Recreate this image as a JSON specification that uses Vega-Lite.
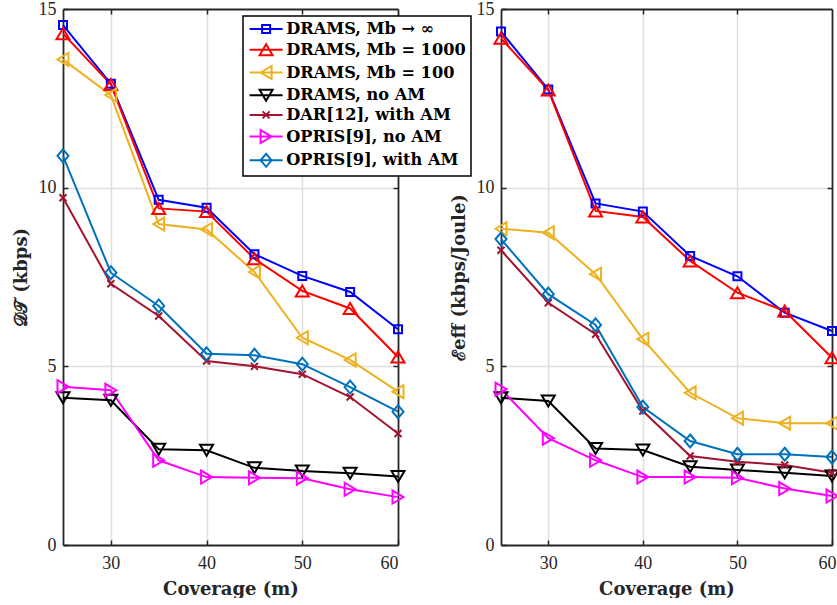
{
  "$schema": "https://vega.github.io/schema/vega-lite/v6.json",
  "background": "white",
  "padding": {"left": 12, "top": 0, "right": 0, "bottom": 0},
  "spacing": 103,
  "bounds": "flush",
  "datasets": {
    "dt": [
      {"coverage": 25, "series": "DRAMS, Mb → ∞", "value": 14.55},
      {"coverage": 30, "series": "DRAMS, Mb → ∞", "value": 12.91},
      {"coverage": 35, "series": "DRAMS, Mb → ∞", "value": 9.66},
      {"coverage": 40, "series": "DRAMS, Mb → ∞", "value": 9.44},
      {"coverage": 45, "series": "DRAMS, Mb → ∞", "value": 8.14},
      {"coverage": 50, "series": "DRAMS, Mb → ∞", "value": 7.53},
      {"coverage": 55, "series": "DRAMS, Mb → ∞", "value": 7.08},
      {"coverage": 60, "series": "DRAMS, Mb → ∞", "value": 6.04},
      {"coverage": 25, "series": "DRAMS, Mb = 1000", "value": 14.31},
      {"coverage": 30, "series": "DRAMS, Mb = 1000", "value": 12.89},
      {"coverage": 35, "series": "DRAMS, Mb = 1000", "value": 9.42},
      {"coverage": 40, "series": "DRAMS, Mb = 1000", "value": 9.33},
      {"coverage": 45, "series": "DRAMS, Mb = 1000", "value": 8.01},
      {"coverage": 50, "series": "DRAMS, Mb = 1000", "value": 7.11},
      {"coverage": 55, "series": "DRAMS, Mb = 1000", "value": 6.62},
      {"coverage": 60, "series": "DRAMS, Mb = 1000", "value": 5.26},
      {"coverage": 25, "series": "DRAMS, Mb = 100", "value": 13.59},
      {"coverage": 30, "series": "DRAMS, Mb = 100", "value": 12.59},
      {"coverage": 35, "series": "DRAMS, Mb = 100", "value": 8.98},
      {"coverage": 40, "series": "DRAMS, Mb = 100", "value": 8.83},
      {"coverage": 45, "series": "DRAMS, Mb = 100", "value": 7.64},
      {"coverage": 50, "series": "DRAMS, Mb = 100", "value": 5.80},
      {"coverage": 55, "series": "DRAMS, Mb = 100", "value": 5.18},
      {"coverage": 60, "series": "DRAMS, Mb = 100", "value": 4.29},
      {"coverage": 25, "series": "DRAMS, no AM", "value": 4.12},
      {"coverage": 30, "series": "DRAMS, no AM", "value": 4.05},
      {"coverage": 35, "series": "DRAMS, no AM", "value": 2.68},
      {"coverage": 40, "series": "DRAMS, no AM", "value": 2.65},
      {"coverage": 45, "series": "DRAMS, no AM", "value": 2.16},
      {"coverage": 50, "series": "DRAMS, no AM", "value": 2.07},
      {"coverage": 55, "series": "DRAMS, no AM", "value": 2.01},
      {"coverage": 60, "series": "DRAMS, no AM", "value": 1.92},
      {"coverage": 25, "series": "DAR[12], with AM", "value": 9.72},
      {"coverage": 30, "series": "DAR[12], with AM", "value": 7.31},
      {"coverage": 35, "series": "DAR[12], with AM", "value": 6.41},
      {"coverage": 40, "series": "DAR[12], with AM", "value": 5.15},
      {"coverage": 45, "series": "DAR[12], with AM", "value": 5.00},
      {"coverage": 50, "series": "DAR[12], with AM", "value": 4.78},
      {"coverage": 55, "series": "DAR[12], with AM", "value": 4.14},
      {"coverage": 60, "series": "DAR[12], with AM", "value": 3.12},
      {"coverage": 25, "series": "OPRIS[9], no AM", "value": 4.43},
      {"coverage": 30, "series": "OPRIS[9], no AM", "value": 4.33},
      {"coverage": 35, "series": "OPRIS[9], no AM", "value": 2.37},
      {"coverage": 40, "series": "OPRIS[9], no AM", "value": 1.90},
      {"coverage": 45, "series": "OPRIS[9], no AM", "value": 1.88},
      {"coverage": 50, "series": "OPRIS[9], no AM", "value": 1.87},
      {"coverage": 55, "series": "OPRIS[9], no AM", "value": 1.56},
      {"coverage": 60, "series": "OPRIS[9], no AM", "value": 1.34},
      {"coverage": 25, "series": "OPRIS[9], with AM", "value": 10.89},
      {"coverage": 30, "series": "OPRIS[9], with AM", "value": 7.62},
      {"coverage": 35, "series": "OPRIS[9], with AM", "value": 6.69},
      {"coverage": 40, "series": "OPRIS[9], with AM", "value": 5.35},
      {"coverage": 45, "series": "OPRIS[9], with AM", "value": 5.31},
      {"coverage": 50, "series": "OPRIS[9], with AM", "value": 5.06},
      {"coverage": 55, "series": "OPRIS[9], with AM", "value": 4.42},
      {"coverage": 60, "series": "OPRIS[9], with AM", "value": 3.73}
    ],
    "eff": [
      {"coverage": 25, "series": "DRAMS, Mb → ∞", "value": 14.37},
      {"coverage": 30, "series": "DRAMS, Mb → ∞", "value": 12.75},
      {"coverage": 35, "series": "DRAMS, Mb → ∞", "value": 9.56},
      {"coverage": 40, "series": "DRAMS, Mb → ∞", "value": 9.33},
      {"coverage": 45, "series": "DRAMS, Mb → ∞", "value": 8.09},
      {"coverage": 50, "series": "DRAMS, Mb → ∞", "value": 7.52},
      {"coverage": 55, "series": "DRAMS, Mb → ∞", "value": 6.50},
      {"coverage": 60, "series": "DRAMS, Mb → ∞", "value": 5.99},
      {"coverage": 25, "series": "DRAMS, Mb = 1000", "value": 14.18},
      {"coverage": 30, "series": "DRAMS, Mb = 1000", "value": 12.73},
      {"coverage": 35, "series": "DRAMS, Mb = 1000", "value": 9.35},
      {"coverage": 40, "series": "DRAMS, Mb = 1000", "value": 9.18},
      {"coverage": 45, "series": "DRAMS, Mb = 1000", "value": 7.95},
      {"coverage": 50, "series": "DRAMS, Mb = 1000", "value": 7.06},
      {"coverage": 55, "series": "DRAMS, Mb = 1000", "value": 6.55},
      {"coverage": 60, "series": "DRAMS, Mb = 1000", "value": 5.24},
      {"coverage": 25, "series": "DRAMS, Mb = 100", "value": 8.85},
      {"coverage": 30, "series": "DRAMS, Mb = 100", "value": 8.74},
      {"coverage": 35, "series": "DRAMS, Mb = 100", "value": 7.58},
      {"coverage": 40, "series": "DRAMS, Mb = 100", "value": 5.76},
      {"coverage": 45, "series": "DRAMS, Mb = 100", "value": 4.26},
      {"coverage": 50, "series": "DRAMS, Mb = 100", "value": 3.55},
      {"coverage": 55, "series": "DRAMS, Mb = 100", "value": 3.41},
      {"coverage": 60, "series": "DRAMS, Mb = 100", "value": 3.41},
      {"coverage": 25, "series": "DRAMS, no AM", "value": 4.12},
      {"coverage": 30, "series": "DRAMS, no AM", "value": 4.03},
      {"coverage": 35, "series": "DRAMS, no AM", "value": 2.70},
      {"coverage": 40, "series": "DRAMS, no AM", "value": 2.66},
      {"coverage": 45, "series": "DRAMS, no AM", "value": 2.19},
      {"coverage": 50, "series": "DRAMS, no AM", "value": 2.10},
      {"coverage": 55, "series": "DRAMS, no AM", "value": 2.02},
      {"coverage": 60, "series": "DRAMS, no AM", "value": 1.93},
      {"coverage": 25, "series": "DAR[12], with AM", "value": 8.25},
      {"coverage": 30, "series": "DAR[12], with AM", "value": 6.78},
      {"coverage": 35, "series": "DAR[12], with AM", "value": 5.90},
      {"coverage": 40, "series": "DAR[12], with AM", "value": 3.75},
      {"coverage": 45, "series": "DAR[12], with AM", "value": 2.49},
      {"coverage": 50, "series": "DAR[12], with AM", "value": 2.33},
      {"coverage": 55, "series": "DAR[12], with AM", "value": 2.24},
      {"coverage": 60, "series": "DAR[12], with AM", "value": 2.02},
      {"coverage": 25, "series": "OPRIS[9], no AM", "value": 4.36},
      {"coverage": 30, "series": "OPRIS[9], no AM", "value": 2.99},
      {"coverage": 35, "series": "OPRIS[9], no AM", "value": 2.37},
      {"coverage": 40, "series": "OPRIS[9], no AM", "value": 1.90},
      {"coverage": 45, "series": "OPRIS[9], no AM", "value": 1.90},
      {"coverage": 50, "series": "OPRIS[9], no AM", "value": 1.88},
      {"coverage": 55, "series": "OPRIS[9], no AM", "value": 1.58},
      {"coverage": 60, "series": "OPRIS[9], no AM", "value": 1.37},
      {"coverage": 25, "series": "OPRIS[9], with AM", "value": 8.56},
      {"coverage": 30, "series": "OPRIS[9], with AM", "value": 7.02},
      {"coverage": 35, "series": "OPRIS[9], with AM", "value": 6.16},
      {"coverage": 40, "series": "OPRIS[9], with AM", "value": 3.86},
      {"coverage": 45, "series": "OPRIS[9], with AM", "value": 2.91},
      {"coverage": 50, "series": "OPRIS[9], with AM", "value": 2.54},
      {"coverage": 55, "series": "OPRIS[9], with AM", "value": 2.54},
      {"coverage": 60, "series": "OPRIS[9], with AM", "value": 2.46}
    ]
  },
  "resolve": {"scale": {"color": "shared", "shape": "shared"}, "legend": {"color": "shared", "shape": "shared"}},
  "hconcat": [
    {
      "width": 335,
      "height": 536,
      "data": {"name": "dt"},
      "layer": [
        {
          "mark": {"type": "line", "strokeWidth": 2},
          "encoding": {
            "x": {"field": "coverage", "type": "quantitative", "scale": {"domain": [25, 60], "nice": false, "zero": false},
              "axis": {"orient": "bottom", "values": [30, 40, 50, 60], "title": "Coverage (m)", "grid": true,
                "gridOpacity": {"condition": {"test": "datum.value == 60", "value": 0}, "value": 1}}},
            "y": {"field": "value", "type": "quantitative", "scale": {"domain": [0, 15], "nice": false},
              "axis": {"orient": "left", "values": [0, 5, 10, 15], "title": "𝒟𝒯 (kbps)", "grid": true, "labelPadding": 12,
                "gridOpacity": {"condition": {"test": "datum.value == 15 || datum.value == 0", "value": 0}, "value": 1}}},
            "color": {"field": "series", "type": "nominal",
              "scale": {"domain": ["DRAMS, Mb → ∞", "DRAMS, Mb = 1000", "DRAMS, Mb = 100", "DRAMS, no AM", "DAR[12], with AM", "OPRIS[9], no AM", "OPRIS[9], with AM"],
                "range": ["#0000FF", "#FF0000", "#EDB120", "#000000", "#A2142F", "#FF00FF", "#0072BD"]},
              "legend": {"orient": "none", "legendX": 180, "legendY": 7, "title": null}}
          }
        },
        {
          "mark": {"type": "point", "filled": false, "strokeWidth": 2, "size": 100, "opacity": 1},
          "encoding": {
            "x": {"field": "coverage", "type": "quantitative", "scale": {"domain": [25, 60], "nice": false, "zero": false},
              "axis": {"orient": "top", "values": [30, 40, 50], "labels": false, "title": null, "grid": false}},
            "y": {"field": "value", "type": "quantitative", "scale": {"domain": [0, 15], "nice": false},
              "axis": {"orient": "right", "values": [5, 10], "labels": false, "title": null, "grid": false}},
            "color": {"field": "series", "type": "nominal", "legend": null},
            "shape": {"condition": [
                {"test": "datum.series === 'DRAMS, Mb → ∞'", "value": "M-0.8,-0.8H0.8V0.8H-0.8Z"},
                {"test": "datum.series === 'DRAMS, Mb = 1000'", "value": "M0,-1.1L1.3,1.1H-1.3Z"},
                {"test": "datum.series === 'DRAMS, Mb = 100'", "value": "M-1.1,0L1.1,-1.3V1.3Z"},
                {"test": "datum.series === 'DRAMS, no AM'", "value": "M0,1.1L1.3,-1.1H-1.3Z"},
                {"test": "datum.series === 'DAR[12], with AM'", "value": "M-0.7,-0.7L0.7,0.7M-0.7,0.7L0.7,-0.7"},
                {"test": "datum.series === 'OPRIS[9], no AM'", "value": "M1.1,0L-1.1,-1.3V1.3Z"}
              ], "value": "M0,-1.3L1.1,0L0,1.3L-1.1,0Z"}
          }
        },
        {
          "transform": [{"filter": "false"}],
          "mark": {"type": "point", "filled": false, "strokeWidth": 2, "size": 100, "opacity": 1},
          "encoding": {
            "color": {"field": "series", "type": "nominal", "legend": {"orient": "none", "legendX": 180, "legendY": 7, "title": null}},
            "shape": {"field": "series", "type": "nominal",
              "scale": {"domain": ["DRAMS, Mb → ∞", "DRAMS, Mb = 1000", "DRAMS, Mb = 100", "DRAMS, no AM", "DAR[12], with AM", "OPRIS[9], no AM", "OPRIS[9], with AM"],
                "range": ["M-3.3,0H3.3M-0.8,-0.8H0.8V0.8H-0.8Z", "M-3.3,0H3.3M0,-1.1L1.3,1.1H-1.3Z", "M-3.3,0H3.3M-1.1,0L1.1,-1.3V1.3Z", "M-3.3,0H3.3M0,1.1L1.3,-1.1H-1.3Z", "M-3.3,0H3.3M-0.7,-0.7L0.7,0.7M-0.7,0.7L0.7,-0.7", "M-3.3,0H3.3M1.1,0L-1.1,-1.3V1.3Z", "M-3.3,0H3.3M0,-1.3L1.1,0L0,1.3L-1.1,0Z"]},
              "legend": {"orient": "none", "legendX": 180, "legendY": 7, "title": null}}
          }
        }
      ],
      "resolve": {"axis": {"x": "independent", "y": "independent"}}
    },
    {
      "width": 331,
      "height": 536,
      "data": {"name": "eff"},
      "layer": [
        {
          "mark": {"type": "line", "strokeWidth": 2},
          "encoding": {
            "x": {"field": "coverage", "type": "quantitative", "scale": {"domain": [25, 60], "nice": false, "zero": false},
              "axis": {"orient": "bottom", "values": [30, 40, 50, 60], "title": "Coverage (m)", "grid": true, "labelFlush": true, "labelFlushOffset": 4,
                "gridOpacity": {"condition": {"test": "datum.value == 60", "value": 0}, "value": 1}}},
            "y": {"field": "value", "type": "quantitative", "scale": {"domain": [0, 15], "nice": false},
              "axis": {"orient": "left", "values": [0, 5, 10, 15], "title": "ℰeff (kbps/Joule)", "grid": true, "labelPadding": 12,
                "gridOpacity": {"condition": {"test": "datum.value == 15 || datum.value == 0", "value": 0}, "value": 1}}},
            "color": {"field": "series", "type": "nominal", "legend": null}
          }
        },
        {
          "mark": {"type": "point", "filled": false, "strokeWidth": 2, "size": 100, "opacity": 1},
          "encoding": {
            "x": {"field": "coverage", "type": "quantitative", "scale": {"domain": [25, 60], "nice": false, "zero": false},
              "axis": {"orient": "top", "values": [30, 40, 50], "labels": false, "title": null, "grid": false}},
            "y": {"field": "value", "type": "quantitative", "scale": {"domain": [0, 15], "nice": false},
              "axis": {"orient": "right", "values": [5, 10], "labels": false, "title": null, "grid": false}},
            "color": {"field": "series", "type": "nominal", "legend": null},
            "shape": {"condition": [
                {"test": "datum.series === 'DRAMS, Mb → ∞'", "value": "M-0.8,-0.8H0.8V0.8H-0.8Z"},
                {"test": "datum.series === 'DRAMS, Mb = 1000'", "value": "M0,-1.1L1.3,1.1H-1.3Z"},
                {"test": "datum.series === 'DRAMS, Mb = 100'", "value": "M-1.1,0L1.1,-1.3V1.3Z"},
                {"test": "datum.series === 'DRAMS, no AM'", "value": "M0,1.1L1.3,-1.1H-1.3Z"},
                {"test": "datum.series === 'DAR[12], with AM'", "value": "M-0.7,-0.7L0.7,0.7M-0.7,0.7L0.7,-0.7"},
                {"test": "datum.series === 'OPRIS[9], no AM'", "value": "M1.1,0L-1.1,-1.3V1.3Z"}
              ], "value": "M0,-1.3L1.1,0L0,1.3L-1.1,0Z"}
          }
        }
      ],
      "resolve": {"axis": {"x": "independent", "y": "independent"}}
    }
  ],
  "config": {
    "view": {"stroke": null},
    "axis": {
      "domain": true, "domainColor": "#262626", "domainWidth": 1.8,
      "ticks": true, "tickSize": -5, "tickColor": "#262626", "tickWidth": 1.5,
      "gridColor": "#dfdfdf", "gridWidth": 1.5,
      "labelFont": "Liberation Serif, Times New Roman, serif", "labelFontSize": 18, "labelColor": "#262626", "labelPadding": 14,
      "titleFont": "DejaVu Serif", "titleFontWeight": "bold", "titleFontSize": 18, "titleColor": "#262626", "titlePadding": 8
    },
    "legend": {
      "padding": 5, "strokeColor": "#000000", "fillColor": "#ffffff", "strokeWidth": 1.5,
      "symbolSize": 100, "symbolStrokeWidth": 2, "symbolOffset": 10, "labelOffset": 12, "rowPadding": 1.7, "symbolOpacity": 1,
      "labelFont": "DejaVu Serif", "labelFontWeight": "bold", "labelFontSize": 16.2, "labelColor": "#000000", "labelLimit": 400
    }
  }
}
